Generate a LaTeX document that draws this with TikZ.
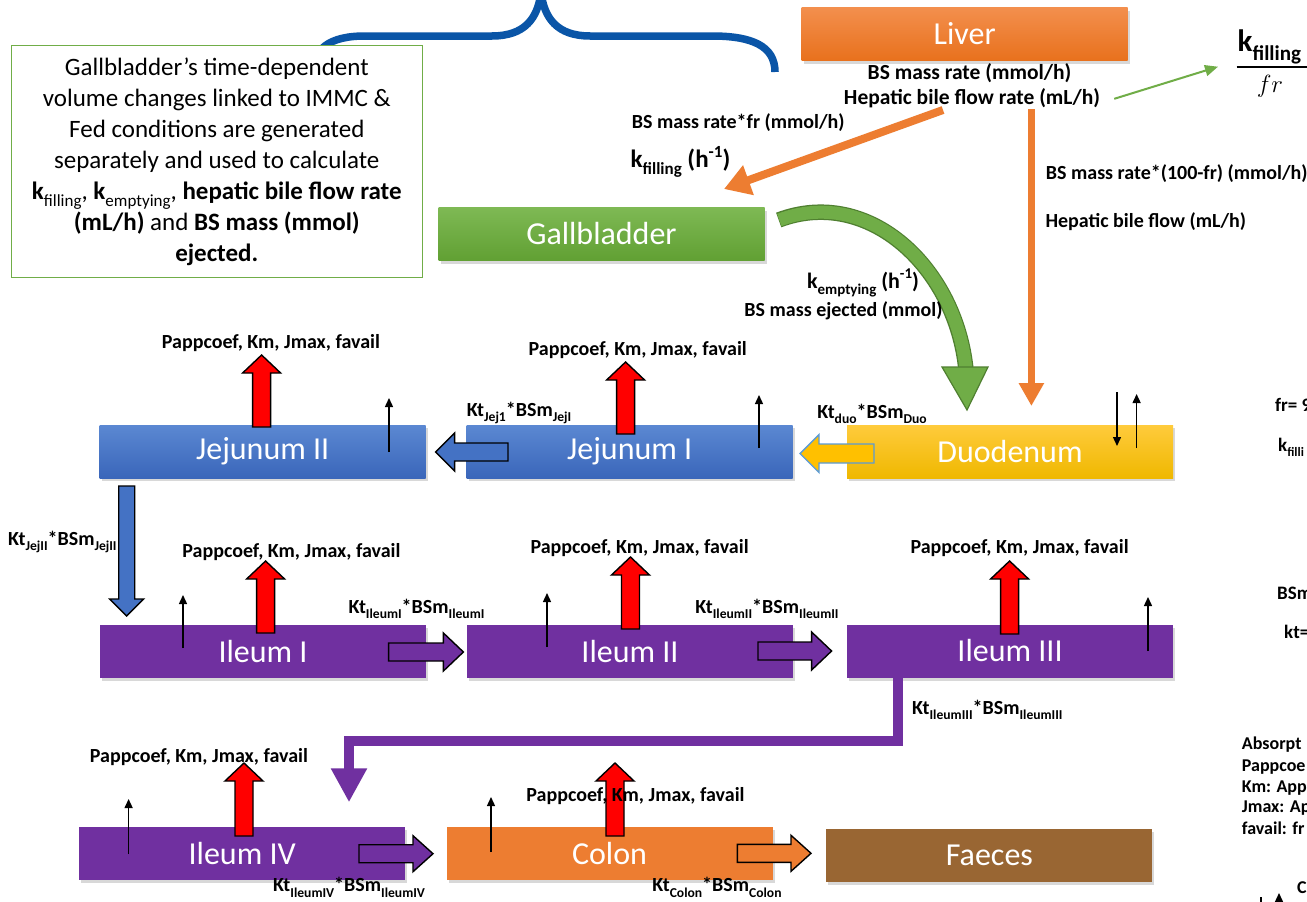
\documentclass[tikz,border=0pt]{standalone}
\usepackage{fontspec}
\usepackage{amsmath}
\setmainfont{Carlito}
\usetikzlibrary{arrows.meta,calc,shadows}
\definecolor{bluetop}{HTML}{5B88D2}
\definecolor{bluebot}{HTML}{3A66BA}
\definecolor{yeltop}{HTML}{FFCB3C}
\definecolor{yelbot}{HTML}{EFB800}
\definecolor{livtop}{HTML}{F38F4D}
\definecolor{livbot}{HTML}{E8711D}
\definecolor{gbtop}{HTML}{7EB954}
\definecolor{gbbot}{HTML}{61A033}
\definecolor{purp}{HTML}{7030A0}
\definecolor{orng}{HTML}{ED7D31}
\definecolor{brwn}{HTML}{996633}
\definecolor{grn}{HTML}{70AD47}
\definecolor{dgrn}{HTML}{4F7F30}
\definecolor{brc}{HTML}{0A55A7}
\definecolor{blarr}{HTML}{4472C4}
\definecolor{yelarr}{HTML}{FFC000}
\definecolor{ltblue}{HTML}{5B9BD5}
\makeatletter
\newcommand\sbs[1]{\raisebox{-0.28em}{\fontsize{\fpeval{0.68*\f@size}}{1}\selectfont #1}}
\newcommand\sps[1]{\raisebox{0.42em}{\fontsize{\fpeval{0.68*\f@size}}{1}\selectfont #1}}
\makeatother
\newcommand\harr[7]{%
 \pgfmathsetmacro\mysg{(#4>#3)?1:-1}%
 \draw[#1] (#3,{#2-#5}) -- ({#4-\mysg*#7},{#2-#5}) -- ({#4-\mysg*#7},{#2-#6}) -- (#4,#2) -- ({#4-\mysg*#7},{#2+#6}) -- ({#4-\mysg*#7},{#2+#5}) -- (#3,{#2+#5}) -- cycle;}
\newcommand\varr[7]{%
 \pgfmathsetmacro\mysg{(#4>#3)?1:-1}%
 \draw[#1] ({#2-#5},#3) -- ({#2-#5},{#4-\mysg*#7}) -- ({#2-#6},{#4-\mysg*#7}) -- (#2,#4) -- ({#2+#6},{#4-\mysg*#7}) -- ({#2+#5},{#4-\mysg*#7}) -- ({#2+#5},#3) -- cycle;}
\tikzset{
 box/.style={rectangle, minimum width=326pt, minimum height=53pt, inner sep=0pt, text=white,
   font=\fontsize{32}{32}\selectfont,
   drop shadow={shadow xshift=2pt, shadow yshift=-3pt, opacity=0.3}},
 bluebox/.style={box, top color=bluetop, bottom color=bluebot},
 yelbox/.style={box, top color=yeltop, bottom color=yelbot},
 livbox/.style={box, top color=livtop, bottom color=livbot},
 gbbox/.style={box, top color=gbtop, bottom color=gbbot},
 purbox/.style={box, fill=purp},
 orbox/.style={box, fill=orng},
 brbox/.style={box, fill=brwn},
 lab/.style={font=\bfseries\fontsize{20}{24}\selectfont, inner sep=0pt},
 llab/.style={font=\bfseries\fontsize{21.5}{24}\selectfont, inner sep=0pt},
 edge/.style={font=\bfseries\fontsize{19}{22}\selectfont, inner sep=0pt, anchor=west},
 redarr/.style={fill=red, draw=black, line width=1.4pt, line join=miter},
 bluearr/.style={fill=blarr, draw=black, line width=1.4pt, line join=miter},
 purarr/.style={fill=purp, draw=black, line width=1.4pt, line join=miter},
 orarr/.style={fill=orng, draw=black, line width=1.4pt, line join=miter},
 yelarrow/.style={fill=yelarr, draw=ltblue, line width=1.4pt, line join=miter},
 thin/.style={line width=1.4pt, -{Triangle[length=9pt,width=8pt]}},
}
\begin{document}
\begin{tikzpicture}[x=1pt,y=-1pt]
\useasboundingbox (0,0) rectangle (1307,902);
\clip (0,0) rectangle (1307,902);
\fill[white] (0,0) rectangle (1307,902);

% brace
\draw[brc, line width=7.5pt] (311,80) .. controls (311,48) and (330,36) .. (365,36) -- (492,36)
  .. controls (525,36) and (538,18) .. (541,-8) .. controls (544,18) and (557,36) .. (590,36)
  -- (712,36) .. controls (752,36) and (775,46) .. (775,72);

% note box
\node[draw=grn, line width=1.2pt, fill=white, minimum width=411pt, minimum height=232pt,
  inner sep=0pt, align=center, font=\fontsize{25}{31}\selectfont] (note) at (216.8,161.7)
  {Gallbladder’s time-dependent\\ volume changes linked to IMMC \&\\ Fed conditions are generated\\
   separately and used to calculate\\
   \textbf{k}\sbs{filling}, \textbf{k}\sbs{emptying}, \textbf{hepatic bile flow rate}\\
   \textbf{(mL/h)} and \textbf{BS mass (mmol)}\\ \textbf{ejected.}};

% boxes
\node[livbox] (liver) at (964.7,34) {Liver};
\node[gbbox] (gall) at (601.5,234) {Gallbladder};
\node[bluebox] (j2) at (262.7,451.5) {Jejunum II};
\node[bluebox] (j1) at (629.7,451.5) {Jejunum I};
\node[yelbox] (duo) at (1010,451.5) {Duodenum};
\node[purbox] (i1) at (263,651.5) {Ileum I};
\node[purbox] (i2) at (630,651.5) {Ileum II};
\node[purbox] (i3) at (1010,651) {Ileum III};
\node[purbox] (i4) at (242.2,853.7) {Ileum IV};
\node[orbox] (colon) at (609.5,853.7) {Colon};
\node[brbox] (faeces) at (989.4,855.8) {Faeces};

% liver labels
\node[llab] (lbs) at (969.5,73.3) {BS mass rate (mmol/h)};
\node[llab] (lhep) at (972,98.3) {Hepatic bile flow rate (mL/h)};

% fraction
\node[anchor=base west, inner sep=0pt, font=\bfseries\fontsize{31}{31}\selectfont] (knum) at (1237.5,51.5) {k\sbs{filling}};
\node[inner sep=0pt, font=\fontsize{34}{34}\selectfont] (fden) at (1270,86) {$fr$};
\draw[line width=1.8pt] (1236.7,66.7) -- (1320,66.7);
\coordinate (fracL) at (1218,66.7);
\draw[grn, line width=2pt, -{Triangle[length=13pt,width=11pt]}] ($(lhep.east)+(14,0.5)$) -- (fracL);

% orange arrows from liver
\coordinate (odS) at (943,110);
\coordinate (odE) at (724,189);
\draw[orng, line width=8pt, -{Triangle[length=26pt,width=30pt]}] (odS) -- (odE);
\coordinate (ovS) at (1031.4,109);
\coordinate (ovE) at (1031.4,406);
\draw[orng, line width=7.3pt, -{Triangle[length=23pt,width=24pt]}] (ovS) -- (ovE);

\node[lab, anchor=west] (lfr) at (631.6,123) {BS mass rate*fr (mmol/h)};
\node[lab, anchor=west, font=\bfseries\fontsize{25}{28}\selectfont] (lkf) at (630.5,161.7) {k\sbs{filling} (h\sps{-1})};
\node[lab, anchor=west] (l100) at (1045.7,173.3) {BS mass rate*(100-fr) (mmol/h)};
\node[lab, anchor=west] (lhbf) at (1045.3,221.7) {Hepatic bile flow (mL/h)};

% green curved arrow gallbladder -> duodenum
\draw[dgrn, line width=15.5pt] ($(gall.east)+(14,-14)$) .. controls (869,186) and (956,268) .. (966,370);
\draw[grn, line width=13pt] ($(gall.east)+(14.6,-14)$) .. controls (869,186) and (956,268) .. (966,369.5);
\draw[fill=grn, draw=dgrn, line width=1.2pt, line join=miter] (942,367) -- (988,367) -- (967,410) -- cycle;
\node[lab, font=\bfseries\fontsize{22}{26}\selectfont] (lke) at (863,283) {k\sbs{emptying} (h\sps{-1})};
\node[lab] (lbse) at (843.5,311) {BS mass ejected (mmol)};

% block transfer arrows
\harr{bluearr}{452}{508}{435.6}{9}{19}{19}
\harr{yelarrow}{453.5}{874}{800}{9.5}{19}{19}
\varr{bluearr}{126.7}{486}{616}{8}{17}{17}
\harr{purarr}{652}{388.6}{463.4}{9}{19}{20}
\harr{purarr}{651}{758}{831.6}{9}{19}{20}
\harr{purarr}{853.7}{359}{433}{9}{18}{20}
\harr{orarr}{853.3}{737.4}{811}{9}{18}{20}
\draw[purp, line width=10pt, -{Triangle[length=34pt,width=34pt]}]
  ($(i3.south)+(-112,0)$) -- (898,740.5) -- (349,740.5) -- ($(i4.north)+(106.8,-24.7)$);

% Kt labels
\node[lab] (kt1) at (519,413) {Kt\sbs{Jej1}*BSm\sbs{JejI}};
\node[lab] (ktd) at (872,414) {Kt\sbs{duo}*BSm\sbs{Duo}};
\node[lab, anchor=west] (ktj2) at (8,542) {Kt\sbs{JejII}*BSm\sbs{JejII}};
\node[lab] (kti1) at (416.5,609) {Kt\sbs{IleumI}*BSm\sbs{IleumI}};
\node[lab] (kti2) at (767,609) {Kt\sbs{IleumII}*BSm\sbs{IleumII}};
\node[lab, anchor=west] (kti3) at (912,710) {Kt\sbs{IleumIII}*BSm\sbs{IleumIII}};
\node[lab] (kti4) at (349,887.5) {Kt\sbs{IleumIV}*BSm\sbs{IleumIV}};
\node[lab] (ktc) at (717,887.5) {Kt\sbs{Colon}*BSm\sbs{Colon}};

% red absorption arrows
\varr{redarr}{261.6}{427}{355}{9}{19}{18}
\varr{redarr}{625.6}{434}{362}{9}{19}{18}
\varr{redarr}{265.6}{633}{561}{9}{19}{18}
\varr{redarr}{630.5}{629}{557}{9}{19}{18}
\varr{redarr}{1009.6}{634}{561}{9}{19}{18}
\varr{redarr}{244}{836}{763}{9}{19}{18}
\varr{redarr}{615}{836}{763}{9}{19}{18}

% Pappcoef labels
\node[lab] (pj2) at (271,343) {Pappcoef, Km, Jmax, favail};
\node[lab] (pj1) at (637.8,350) {Pappcoef, Km, Jmax, favail};
\node[lab] (pi1) at (291.5,552) {Pappcoef, Km, Jmax, favail};
\node[lab] (pi2) at (639.6,548) {Pappcoef, Km, Jmax, favail};
\node[lab] (pi3) at (1019.6,548) {Pappcoef, Km, Jmax, favail};
\node[lab] (pi4) at (199,757) {Pappcoef, Km, Jmax, favail};
\node[lab] (pc) at (635.5,796) {Pappcoef, Km, Jmax, favail};

% small black arrows
\draw[thin] (389,452) -- (389,398);
\draw[thin] (759,448) -- (759,395);
\draw[thin] (1117,392) -- (1117,446);
\draw[thin] (1136.6,448) -- (1136.6,394);
\draw[thin] (183,648) -- (183,595);
\draw[thin] (547,647) -- (547,593);
\draw[thin] (1148,651) -- (1148,597);
\draw[thin] (128.6,854) -- (128.6,799);
\draw[thin] (491,852) -- (491,797);

% right edge fragments
\node[edge] (efr) at (1275,405) {fr= 9};
\node[edge] (ekf) at (1278,447) {k\sbs{filli}};
\node[edge] (ebsm) at (1277,593) {BSm};
\node[edge] (ekt) at (1284,632) {kt=};
\node[edge, font=\bfseries\fontsize{18}{20}\selectfont] (ea1) at (1241.7,744.3) {Absorpt};
\node[edge, font=\bfseries\fontsize{18}{20}\selectfont] (ea2) at (1241.7,766.7) {Pappcoe};
\node[edge, font=\bfseries\fontsize{18}{20}\selectfont] (ea3) at (1241.7,788.3) {Km: App};
\node[edge, font=\bfseries\fontsize{18}{20}\selectfont] (ea4) at (1241.7,808.3) {Jmax: Ap};
\node[edge, font=\bfseries\fontsize{18}{20}\selectfont] (ea5) at (1241.7,828.3) {favail: fr};
\draw[line width=1.8pt] (1260.7,897) -- (1260.7,920);
\draw[thin] (1279,915) -- (1279,893);
\node[edge, font=\bfseries\fontsize{18}{20}\selectfont] (ec) at (1297,888) {C};
\end{tikzpicture}
\end{document}
